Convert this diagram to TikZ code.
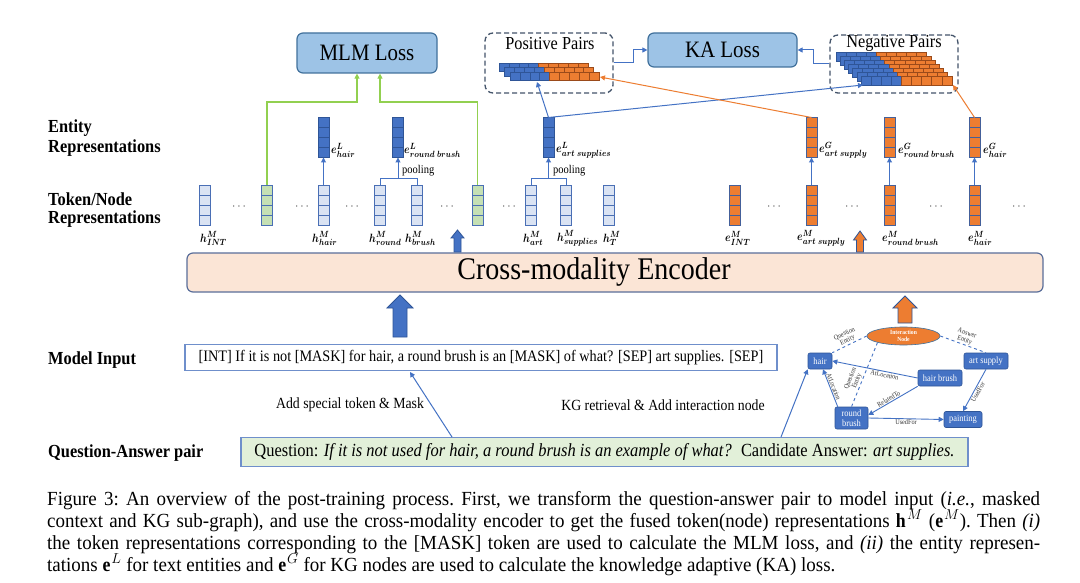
\documentclass[tikz,border=0pt]{standalone}
\usepackage{fontspec}
\setmainfont{Liberation Serif}[FakeStretch=0.89]
\usepackage{amsmath}
\usepackage{graphicx}
\usetikzlibrary{arrows.meta,calc,shapes.geometric}
\definecolor{vborder}{HTML}{4A6FB5}
\definecolor{dvborder}{HTML}{2F5597}
\definecolor{lightvec}{HTML}{DAE3F3}
\definecolor{greenvec}{HTML}{C5E0B4}
\definecolor{darkvec}{HTML}{4472C4}
\definecolor{orangevec}{HTML}{ED7D31}
\definecolor{obord}{HTML}{44609A}
\definecolor{ocell}{HTML}{9A4A1A}
\definecolor{lossfill}{HTML}{9DC3E6}
\definecolor{lossborder}{HTML}{41719C}
\definecolor{encfill}{HTML}{FBE5D6}
\definecolor{encborder}{HTML}{5A6E9A}
\definecolor{qafill}{HTML}{E2F0D9}
\definecolor{boxborder}{HTML}{6F8FCB}
\definecolor{dashcol}{HTML}{44546A}
\definecolor{mlmgreen}{HTML}{92D050}
\definecolor{lineblue}{HTML}{4472C4}
\definecolor{lineorange}{HTML}{ED7D31}
\definecolor{kgblue}{HTML}{4472C4}
\definecolor{kgborder}{HTML}{2F5597}
\definecolor{elabcol}{HTML}{333333}
\newfontfamily\capfont{Liberation Serif}[FakeStretch=0.95]
\newcommand\vl[3]{\scalebox{0.85}[1]{$\boldsymbol{#1}^{\boldsymbol{#2}}_{\boldsymbol{#3}}$}}
\newcommand\blkarrow[7]{%
  \filldraw[fill=#7, draw=dvborder, line width=0.8pt]
    ({#1-#5},#3) -- ({#1-#5},{#2+#6}) -- ({#1-#4},{#2+#6}) -- (#1,#2)
    -- ({#1+#4},{#2+#6}) -- ({#1+#5},{#2+#6}) -- ({#1+#5},#3) -- cycle;}
\begin{document}
\begin{tikzpicture}[x=1pt,y=-1pt,
  blueline/.style={draw=lineblue, line width=1pt},
  orangeline/.style={draw=lineorange, line width=1pt},
  greenline/.style={draw=mlmgreen, line width=1.1pt},
  arr/.style={-{Triangle[length=5pt,width=5pt]}},
  vec/.style={draw=#1, line width=0.9pt, minimum width=11pt, minimum height=40pt, inner sep=0pt, outer sep=0pt,
    path picture={\foreach \k in {0.25,0.5,0.75}{\draw[#1, line width=0.9pt] ($(path picture bounding box.north west)!\k!(path picture bounding box.south west)$) -- ($(path picture bounding box.north east)!\k!(path picture bounding box.south east)$);}}},
  lvec/.style={vec=vborder, fill=lightvec},
  gvec/.style={vec=vborder, fill=greenvec},
  dvec/.style={vec=dvborder, fill=darkvec},
  ovec/.style={vec=obord, fill=orangevec},
  headlab/.style={anchor=west, inner sep=0pt, font=\fontsize{18.4}{20}\selectfont\bfseries},
  mlab/.style={anchor=west, inner sep=0pt, font=\fontsize{13}{13}\selectfont},
  dots/.style={inner sep=0pt, font=\fontsize{12}{12}\selectfont, text=black!75},
  poollab/.style={anchor=west, inner sep=0pt, font=\fontsize{11.8}{12}\selectfont},
  lossbox/.style={draw=lossborder, fill=lossfill, line width=1.2pt, rounded corners=6pt, font=\fontsize{23.5}{24}\selectfont},
  pairbox/.style={draw=dashcol, line width=1.3pt, dash pattern=on 5pt off 3pt, rounded corners=8pt},
  kgnode/.style={draw=kgborder, fill=kgblue, line width=0.6pt, rounded corners=2pt, text=white, inner sep=0pt, font=\fontsize{9.5}{10}\selectfont, align=center},
  kgedge/.style={draw=lineblue, line width=0.9pt},
  elab/.style={font=\fontsize{7}{7}\selectfont, text=elabcol, inner sep=0.8pt, align=center}
]
\useasboundingbox (0,0) rectangle (1080,583);
\fill[white] (0,0) rectangle (1080,583);

% ---------- left headings ----------
\node[headlab] (h1a) at (48,128) {Entity};
\node[headlab] (h1b) at (48,148) {Representations};
\node[headlab] (h2a) at (48,199) {Token/Node};
\node[headlab] (h2b) at (48,219) {Representations};
\node[headlab] (h3) at (48,360) {Model Input};
\node[headlab] (h4) at (48,453) {Question-Answer pair};

% ---------- loss boxes ----------
\node[lossbox, minimum width=140pt, minimum height=40pt] (mlm) at (367,53) {MLM Loss};
\node[lossbox, minimum width=149pt, minimum height=34pt] (ka) at (722.5,50) {KA Loss};

% ---------- pair boxes ----------
\node[pairbox, minimum width=128pt, minimum height=60pt] (posbox) at (549,63) {};
\node[font=\fontsize{18.3}{19}\selectfont, inner sep=0pt] (postitle) at (550,44) {Positive Pairs};
\node[pairbox, minimum width=128pt, minimum height=58pt] (negbox) at (894,64) {};
\node[font=\fontsize{18.3}{19}\selectfont, inner sep=0pt] (negtitle) at (894,43) {Negative Pairs};

\foreach \k in {2,1,0}{
  \foreach \i in {0,...,8}{
    \ifnum\i<4 \def\cc{darkvec}\def\bb{dvborder}\else\def\cc{orangevec}\def\bb{ocell}\fi
    \filldraw[fill=\cc, draw=\bb, line width=0.5pt] ({510-5.5*\k+9.9*\i},{72-4.5*\k}) rectangle ++(9.9,8.7);
  }
}
\foreach \k in {6,5,4,3,2,1,0}{
  \foreach \i in {0,...,8}{
    \ifnum\i<4 \def\cc{darkvec}\def\bb{dvborder}\else\def\cc{orangevec}\def\bb{ocell}\fi
    \filldraw[fill=\cc, draw=\bb, line width=0.5pt] ({861-4.2*\k+10.1*\i},{76-4*\k}) rectangle ++(10.1,9.5);
  }
}
\coordinate (posin) at (537,82);
\coordinate (posout) at (600,77);
\coordinate (negin) at (863,85);
\coordinate (negout) at (953,85);

\draw[blueline, arr] (posbox.east) -- ++(20,0) |- (ka.west);
\draw[blueline, arr] (negbox.west) -- ++(-16,0) |- (ka.east);

% ---------- token / node representations ----------
\node[lvec] (hint) at (204.5,205) {};
\node[gvec] (g1) at (267,205) {};
\node[lvec] (hhair) at (323.5,205) {};
\node[lvec] (hround) at (380,205) {};
\node[lvec] (hbrush) at (417,205) {};
\node[gvec] (g2) at (477.5,205) {};
\node[lvec] (hart) at (531,205) {};
\node[lvec] (hsup) at (566,205) {};
\node[lvec] (hT) at (609,205) {};
\node[ovec] (eint) at (734.5,205) {};
\node[ovec] (emart) at (811.5,205) {};
\node[ovec] (emround) at (889.5,205) {};
\node[ovec] (emhair) at (974.5,205) {};

\foreach \x [count=\n] in {240,303,353,448,510,775,853,937,1020}
  \node[dots] (dot\n) at (\x,207) {$\cdots$};

\node[mlab] (lhint) at (200,238) {\vl{h}{M}{INT}};
\node[mlab] (lhhair) at (312,238) {\vl{h}{M}{hair}};
\node[mlab] (lhround) at (369,238) {\vl{h}{M}{round}};
\node[mlab] (lhbrush) at (405,238) {\vl{h}{M}{brush}};
\node[mlab] (lhart) at (523,238) {\vl{h}{M}{art}};
\node[mlab] (lhsup) at (557,238) {\vl{h}{M}{supplies}};
\node[mlab] (lhT) at (603,238) {\vl{h}{M}{T}};
\node[mlab] (leint) at (725,238) {\vl{e}{M}{INT}};
\node[mlab] (lemart) at (797,238) {\vl{e}{M}{art\ supply}};
\node[mlab] (lemround) at (882,238) {\vl{e}{M}{round\ brush}};
\node[mlab] (lemhair) at (968,238) {\vl{e}{M}{hair}};

% ---------- entity representations ----------
\node[dvec] (elhair) at (323.5,137.5) {};
\node[dvec] (elround) at (398,137.5) {};
\node[dvec] (elart) at (548.5,137.5) {};
\node[ovec] (egart) at (811.5,137.5) {};
\node[ovec] (eground) at (889.5,137.5) {};
\node[ovec] (eghair) at (974.5,137.5) {};

\node[mlab] (lelhair) at (331,150) {\vl{e}{L}{hair}};
\node[mlab] (lelround) at (404,150) {\vl{e}{L}{round\ brush}};
\node[mlab] (lelart) at (556,150) {\vl{e}{L}{art\ supplies}};
\node[mlab] (legart) at (819,150) {\vl{e}{G}{art\ supply}};
\node[mlab] (leground) at (898,150) {\vl{e}{G}{round\ brush}};
\node[mlab] (leghair) at (983,150) {\vl{e}{G}{hair}};

% pooling and up arrows
\draw[blueline] (hround.north) -- ++(0,-6) -| (hbrush.north);
\coordinate (pb1) at (398,179);
\draw[blueline, arr] (pb1) -- (elround.south);
\node[poollab] (pool1) at (402,171) {pooling};
\draw[blueline] (hart.north) -- ++(0,-6) -| (hsup.north);
\coordinate (pb2) at (548.5,179);
\draw[blueline, arr] (pb2) -- (elart.south);
\node[poollab] (pool2) at (553,171) {pooling};
\draw[blueline, arr] (hhair.north) -- (elhair.south);
\draw[blueline, arr] (emart.north) -- (egart.south);
\draw[blueline, arr] (emround.north) -- (eground.south);
\draw[blueline, arr] (emhair.north) -- (eghair.south);

% green MLM arrows
\draw[greenline, arr] (g1.north) -- ++(0,-83) -| ([xshift=-10pt]mlm.south);
\draw[greenline, arr] (g2.north) -- ++(0,-83) -| ([xshift=13pt]mlm.south);

% to pairs
\draw[blueline, arr] (elart.north) -- (posin);
\draw[blueline, arr] (elart.north) -- (negin);
\draw[orangeline, arr] (egart.north) -- (posout);
\draw[orangeline, arr] (eghair.north) -- (negout);

% ---------- encoder ----------
\node[draw=encborder, fill=encfill, line width=1.2pt, rounded corners=6pt, minimum width=856pt, minimum height=39pt] (enc) at (615,272.5) {};
\node[font=\fontsize{31.5}{32}\selectfont, inner sep=0pt] (enctext) at (594,272) {Cross-modality Encoder};

\blkarrow{400}{295}{337}{13}{7}{13}{darkvec}
\blkarrow{457.5}{230}{252}{6.5}{3.5}{8}{darkvec}
\blkarrow{905}{296}{323}{12}{7}{12}{orangevec}
\blkarrow{860}{231}{252}{6.5}{3.5}{9}{orangevec}

% ---------- model input ----------
\node[draw=boxborder, line width=1.3pt, minimum width=592pt, minimum height=26pt, font=\fontsize{16}{16}\selectfont] (minput) at (481,357.5) {[INT] If it is not [MASK] for hair, a round brush is an [MASK] of what? [SEP] art supplies. [SEP]};

% ---------- QA pair ----------
\node[draw=boxborder, fill=qafill, line width=1.3pt, minimum width=727pt, minimum height=29pt, font=\fontsize{18.5}{18.5}\selectfont] (qa) at (604.5,452) {Question: \textit{If it is not used for hair, a round brush is an example of what?}\enspace Candidate Answer: \textit{art supplies.}};

\node[font=\fontsize{15.5}{16}\selectfont, inner sep=0pt] (addtok) at (350,405) {Add special token \& Mask};
\node[font=\fontsize{15.5}{16}\selectfont, inner sep=0pt] (kgret) at (663,405) {KG retrieval \& Add interaction node};

% ---------- KG ----------
\node[ellipse, draw=lossborder, fill=orangevec, line width=0.6pt, minimum width=73pt, minimum height=18pt, inner sep=0pt, text=white, align=center, font=\fontsize{6.3}{6.5}\selectfont\bfseries] (inode) at (903.5,336) {Interaction\\Node};
\node[kgnode, minimum width=24pt, minimum height=16pt] (kghair) at (820,361) {hair};
\node[kgnode, minimum width=44pt, minimum height=16pt] (kgart) at (986,361) {art supply};
\node[kgnode, minimum width=44pt, minimum height=16pt] (kghb) at (940,378) {hair brush};
\node[kgnode, minimum width=33pt, minimum height=22pt, font=\fontsize{9.5}{9.5}\selectfont] (kground) at (851.5,418) {round\\brush};
\node[kgnode, minimum width=38pt, minimum height=16pt] (kgpaint) at (963,419.5) {painting};

\draw[kgedge, dashed] (inode.west) -- node[elab, sloped, above] {Question\\Entity} (kghair.north east);
\draw[kgedge, dashed] (inode.east) -- node[elab, sloped, above] {Answer\\Entity} (kgart.north);
\draw[kgedge, dashed] (inode.south west) -- node[elab, sloped, above, pos=0.63] {Question\\Entity} (kground.north);
\draw[kgedge, arr] (kghb.west) -- node[elab, sloped, below, pos=0.38] {AtLocation} (kghair.east);
\draw[kgedge, arr] (kghb.south west) -- node[elab, sloped, above, pos=0.55] {RelatedTo} ([yshift=3pt]kground.east);
\draw[kgedge, arr] ([xshift=3pt]kground.north west) -- node[elab, sloped, above] {AtLocation} ([xshift=3pt]kghair.south);
\draw[kgedge, arr] (kground.east) -- node[elab, below] {UsedFor} (kgpaint.west);
\draw[kgedge, arr] (kgart.south) -- node[elab, sloped, below] {UsedFor} (kgpaint.north);

% arrows from QA pair
\coordinate (qaA) at (452,437);
\coordinate (miA) at (410,372);
\coordinate (qaB) at (781,437);
\draw[blueline, arr] (qaA) -- (miA);
\draw[blueline, arr] (qaB) -- (kghair.south west);

% ---------- caption ----------
\begin{scope}[every node/.style={anchor=base west, inner sep=0pt, font=\capfont\fontsize{20}{22}\selectfont\frenchspacing}]
\node (cap1) at (47,505) {\makebox[993pt][s]{Figure 3: An overview of the post-training process. First, we transform the question-answer pair to model input (\textit{i.e.}, masked}};
\node (cap2) at (47,527) {\makebox[993pt][s]{context and KG sub-graph), and use the cross-modality encoder to get the fused token(node) representations $\mathbf{h}^M$ ($\mathbf{e}^M$). Then \textit{(i)}}};
\node (cap3) at (47,549) {\makebox[993pt][s]{the token representations corresponding to the [MASK] token are used to calculate the MLM loss, and \textit{(ii)} the entity represen-}};
\node (cap4) at (47,571) {tations $\mathbf{e}^L$ for text entities and $\mathbf{e}^G$ for KG nodes are used to calculate the knowledge adaptive (KA) loss.};
\end{scope}
\end{tikzpicture}
\end{document}
